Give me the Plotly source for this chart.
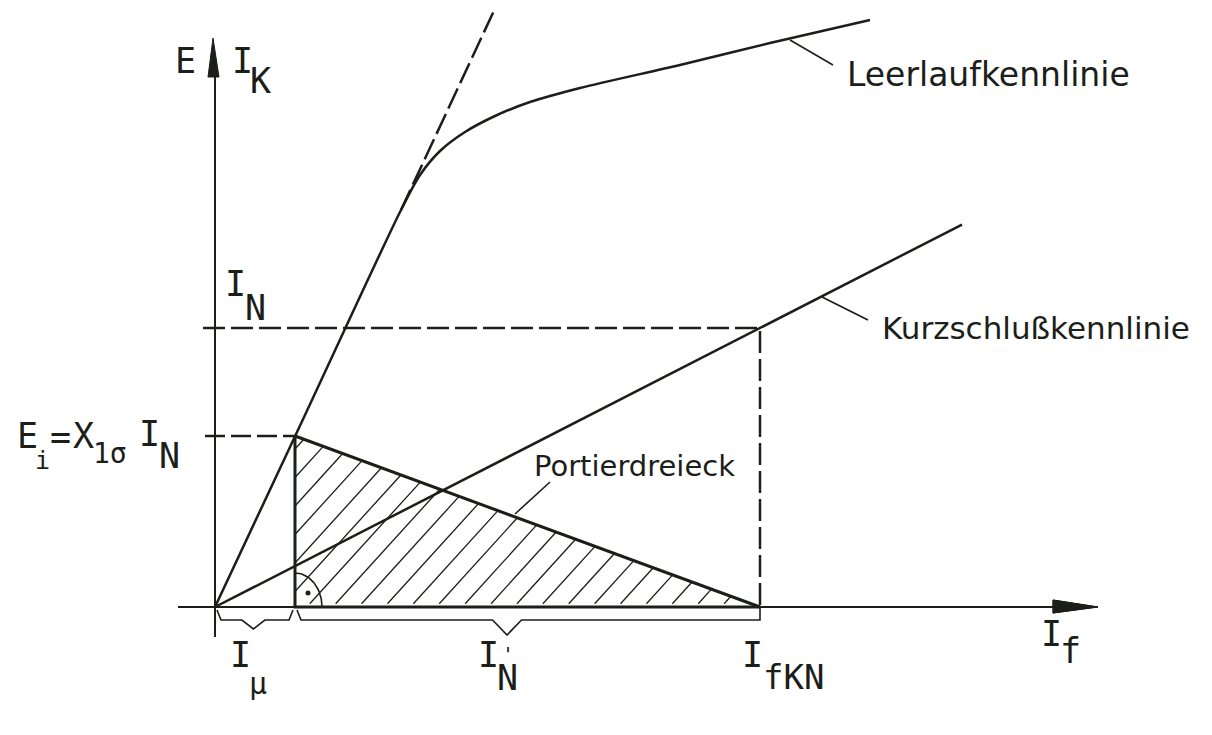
import numpy as np
import plotly.graph_objects as go

W, H = 1212, 735
X0, Y0 = 215, 607          # page position of the diagram origin
INK = "#1b1e19"
PAPER = "#fdfcee"

# Potier construction (diagram units, 1 unit = 1 px)
i_mu = 80        # I_mu : field current at the triangle corner
e_i = 171        # E_i = X_1sigma * I_N
i_fkn = 545      # I_fKN : field current for rated short-circuit current
i_n = 279        # I_N : rated current
if_end = 747     # end of the short-circuit characteristic
e_top = 597      # top of the air-gap line

# open-circuit characteristic (Leerlaufkennlinie)
occ_if = [0, 90, 186, 205, 225, 250, 280, 315, 365, 465, 555, 655]
occ_e = [0, 192, 397, 432, 456, 475, 491, 505, 519, 542, 564, 587]

fig = go.Figure()


def line(xs, ys, width=2.5, dash=None, shape="linear"):
    fig.add_trace(go.Scatter(
        x=xs, y=ys, mode="lines", hoverinfo="skip", showlegend=False,
        line=dict(color=INK, width=width, dash=dash, shape=shape,
                  smoothing=0.8 if shape == "spline" else None)))


# axes
line([-37, 840], [0, 0], width=2)
line([0, 0], [-30, 532], width=2)

# open-circuit characteristic and air-gap line
line(occ_if, occ_e, width=2.5, shape="spline")
air_slope = e_i / i_mu
line([occ_if[2], e_top / air_slope], [occ_e[2], e_top], width=2.5, dash="22px,6px")

# short-circuit characteristic
sc_slope = i_n / i_fkn
line([0, if_end], [0, if_end * sc_slope], width=2.5)

# dashed construction lines
line([-12, i_fkn, i_fkn], [i_n, i_n, 0], width=2.5, dash="22px,6px")
line([-10, i_mu], [e_i, e_i], width=2.5, dash="20px,6px")

# Potier triangle
line([i_mu, i_mu, i_fkn], [e_i, 0, 0], width=3)
line([i_mu, i_fkn], [e_i, 0], width=3)

# hatching inside the triangle
hx, hy = [], []
h_slope = 1.1
spacing = 25.9
k = e_i / (i_fkn - i_mu)
xb = i_fkn - 1.5 * spacing
while xb > i_mu - e_i / h_slope:
    if xb >= i_mu:
        p0 = (xb + 3, 3 * h_slope)
    else:
        p0 = (i_mu, h_slope * (i_mu - xb))
    x_up = (k * i_fkn + h_slope * xb) / (h_slope + k)
    p1 = (x_up, h_slope * (x_up - xb))
    if p1[0] > p0[0]:
        hx += [p0[0], p1[0], None]
        hy += [p0[1], p1[1], None]
    xb -= spacing
line(hx, hy, width=1.3)

# right-angle mark at the triangle base
t = np.linspace(0, np.pi / 2, 30)
line(list(i_mu + 27 * np.cos(t)), list(34 * np.sin(t)), width=1.6)
fig.add_trace(go.Scatter(x=[i_mu + 13], y=[14], mode="markers", hoverinfo="skip",
                         showlegend=False, marker=dict(color=INK, size=5)))


# curly brackets under the axis
def bracket(xa, xb_, tip_frac, tip, close_right=False):
    xm = xa + tip_frac * (xb_ - xa)
    xs = [xa + 2, xa + 6, xm - 7 - tip * 0.5, xm, xm + 7 + tip * 0.5]
    ys = [-3, -13, -13, -13 - tip, -13]
    if close_right:
        xs += [xb_, xb_]
        ys += [-13, 0]
    else:
        xs += [xb_ - 6, xb_ - 2]
        ys += [-13, -3]
    line(xs, ys, width=1.6)


bracket(0, i_mu, 0.48, 9)
bracket(i_mu, i_fkn, 0.456, 15, close_right=True)

# leader lines
line([575, 618], [567, 542], width=1.6)
line([607, 653], [310, 287], width=1.6)
line([335, 300], [125, 93], width=1.6)

# arrow heads
fig.add_shape(type="path", path="M -7,530 L -2,569 L 4,530 Z",
              fillcolor=INK, line=dict(color=INK, width=1))
fig.add_shape(type="path", path="M 838,7 L 883,0 L 838,-6 Z",
              fillcolor=INK, line=dict(color=INK, width=1))

SYM = "DejaVu Sans Mono"
TXT = "DejaVu Sans"


def label(x, y, text, size=35, family=SYM, xanchor="center", yanchor="middle"):
    fig.add_annotation(x=x, y=y, text=text, showarrow=False, xanchor=xanchor,
                       yanchor=yanchor, font=dict(family=family, size=size, color=INK))


# axis symbols
label(-30, 546, "E")
label(27, 546, "I")
label(45, 526, "K")
label(836, -27, "I")
label(855, -44, "f")

# ordinate marks
label(20, 323, "I")
label(40, 299, "N")
label(-188, 171, "E")
label(-173, 147, "i", size=25)
label(-155, 170, "=")
label(-132, 171, "X")
label(-105, 154, "1σ", size=28)
label(-66, 173, "I")
label(-46, 151, "N")

# abscissa marks
label(25, -48, "I")
label(43, -76, "μ", size=30)
label(273, -48, "I")
label(293, -33, "'", size=20, yanchor="top")
label(292, -71, "N")
label(537, -48, "I")
label(578, -70, "fKN", size=34)

# curve names
label(630, 533, "Leerlaufkennlinie", size=33, family=TXT, xanchor="left")
label(665, 279, "Kurzschlußkennlinie", size=31, family=TXT, xanchor="left")
label(317, 141, "Portierdreieck", size=29, family=TXT, xanchor="left")

fig.update_layout(
    width=W, height=H, autosize=False,
    margin=dict(l=0, r=0, t=0, b=0),
    paper_bgcolor="white", plot_bgcolor="rgba(0,0,0,0)",
    xaxis=dict(range=[-X0, W - X0], visible=False, fixedrange=True),
    yaxis=dict(range=[Y0 - H, Y0], visible=False, fixedrange=True),
    shapes=[dict(type="rect", xref="paper", yref="paper", x0=7 / W, x1=1,
                 y0=0, y1=1 - 10 / H, fillcolor=PAPER, line=dict(width=0),
                 layer="below")] + list(fig.layout.shapes),
)

fig.write_html("out.html")
